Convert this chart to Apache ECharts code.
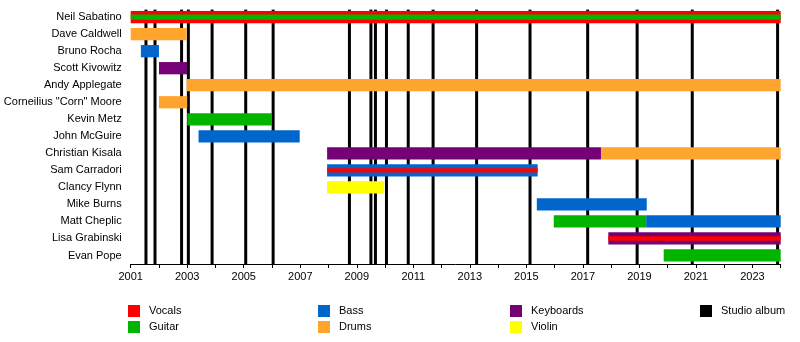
<!DOCTYPE html>
<html>
<head>
<meta charset="utf-8">
<script src="https://cdn.jsdelivr.net/npm/echarts@6/dist/echarts.min.js"></script>
<style>html,body{margin:0;padding:0;background:#fff}#c{width:800px;height:342px}</style>
</head>
<body>
<div id="c"></div>
<script>
const members = ["Neil Sabatino","Dave Caldwell","Bruno Rocha","Scott Kivowitz","Andy Applegate","Corneilius \"Corn\" Moore","Kevin Metz","John McGuire","Christian Kisala","Sam Carradori","Clancy Flynn","Mike Burns","Matt Cheplic","Lisa Grabinski","Evan Pope"];
// periods: [member, start, end]
const vocals = [["Neil Sabatino",2001,2024]];
const vocalsStripe = [["Sam Carradori",2007.95,2015.4],["Lisa Grabinski",2017.9,2024]];
const guitar = [["Kevin Metz",2003,2006],["Matt Cheplic",2015.97,2019.24],["Evan Pope",2019.86,2024]];
const guitarStripe = [["Neil Sabatino",2001,2024]];
const bass = [["Bruno Rocha",2001.36,2002],["John McGuire",2003.4,2006.98],["Sam Carradori",2007.95,2015.4],["Mike Burns",2015.37,2019.26],["Matt Cheplic",2019.24,2024]];
const drums = [["Dave Caldwell",2001,2002.98],["Andy Applegate",2002.98,2024],["Corneilius \"Corn\" Moore",2002,2003],["Christian Kisala",2017.64,2024]];
const keyboards = [["Scott Kivowitz",2002,2003],["Christian Kisala",2007.95,2017.64],["Lisa Grabinski",2017.9,2024]];
const violin = [["Clancy Flynn",2007.95,2009.97]];
const studioAlbums = [2001.54,2001.86,2002.80,2003.04,2003.88,2005.07,2006.04,2008.74,2009.5,2009.66,2010.05,2010.82,2011.7,2013.24,2015.13,2017.17,2018.92,2020.87,2023.89];
const xMin = 2001, xMax = 2024;

const colors = {Vocals:"#ff0000",Guitar:"#00b400",Bass:"#0066cc",Drums:"#ffa52d",Keyboards:"#760076",Violin:"#ffff00","Studio album":"#000000"};

function toData(arr){ return arr.map(p => [p[1], p[2], members.indexOf(p[0])]); }
function barRender(frac){
  return function(params, api){
    const s = api.coord([api.value(0), api.value(2)]);
    const e = api.coord([api.value(1), api.value(2)]);
    const h = api.size([0,1])[1] * frac;
    return {type:'rect', shape:{x:s[0], y:s[1]-h/2, width:e[0]-s[0], height:h}, style:{fill:api.visual('color')}};
  };
}
function barSeries(name, arr, frac, z){
  return {type:'custom', name:name, renderItem:barRender(frac), data:toData(arr),
    encode:{x:[0,1], y:2}, itemStyle:{color:colors[name]}, z:z, silent:true};
}
const series = [
  {type:'custom', name:'Studio album', z:1, silent:true, itemStyle:{color:colors['Studio album']},
   data: studioAlbums.map(v => [v]), encode:{x:0},
   renderItem:function(params, api){
     const cs = params.coordSys;
     const x = api.coord([api.value(0), 0])[0];
     return {type:'line', shape:{x1:x, y1:cs.y+1, x2:x, y2:cs.y+cs.height}, style:{stroke:'#000', lineWidth:3}};
   }},
  barSeries('Vocals', vocals, 0.72, 2),
  barSeries('Guitar', guitar, 0.72, 2),
  barSeries('Bass', bass, 0.72, 2),
  barSeries('Drums', drums, 0.72, 2),
  barSeries('Keyboards', keyboards, 0.72, 2),
  barSeries('Violin', violin, 0.72, 2),
  barSeries('Vocals', vocalsStripe, 0.26, 3),
  barSeries('Guitar', guitarStripe, 0.3, 3)
];
function legend(names, left){
  return {data:names, orient:'vertical', left:left, top:305, itemWidth:12, itemHeight:12, itemGap:4, padding:0,
    icon:'rect', selectedMode:false, textStyle:{fontSize:11, color:'#000', fontFamily:'Liberation Sans', padding:[0,0,0,4]}};
}
const chart = echarts.init(document.getElementById('c'), null, {renderer:'canvas'});
chart.setOption({
  animation:false,
  backgroundColor:'#fff',
  grid:{left:130.7, right:19.3, top:8.6, bottom:78, containLabel:false},
  xAxis:{type:'value', min:xMin, max:xMax, interval:1,
    axisLine:{show:true, lineStyle:{color:'#000', width:1}},
    axisTick:{show:true, length:4, lineStyle:{color:'#000'}},
    splitLine:{show:false},
    axisLabel:{fontSize:11, color:'#000', fontFamily:'Liberation Sans', margin:7,
      formatter:v => (Math.round(v) % 2 === 1 ? String(Math.round(v)) : '')}},
  yAxis:{type:'category', data:members, inverse:true,
    axisLine:{show:false}, axisTick:{show:false}, splitLine:{show:false},
    axisLabel:{fontSize:11, color:'#000', fontFamily:'Liberation Sans', margin:9, interval:0}},
  legend:[legend(['Vocals','Guitar'],128), legend(['Bass','Drums'],318), legend(['Keyboards','Violin'],510), legend(['Studio album'],700)],
  series:series
});
</script>
</body>
</html>
